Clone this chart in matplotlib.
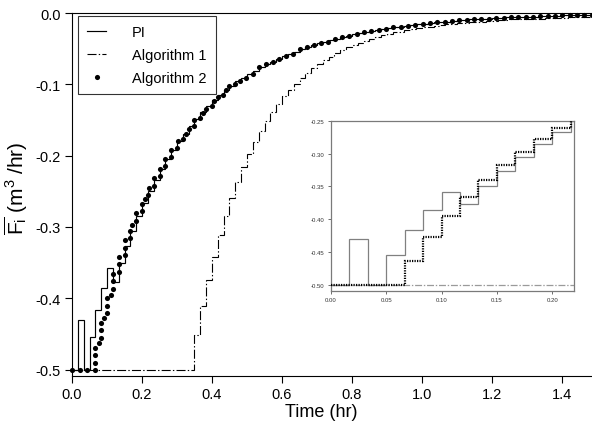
import numpy as np
import matplotlib
matplotlib.use('Agg')
import matplotlib.pyplot as plt
from matplotlib.lines import Line2D

plt.rcParams['font.family'] = ['Liberation Sans', 'DejaVu Sans']
plt.rcParams['axes.unicode_minus'] = False
plt.rcParams['mathtext.fontset'] = 'custom'
plt.rcParams['mathtext.rm'] = 'Liberation Sans'
plt.rcParams['mathtext.it'] = 'Liberation Sans:italic'
plt.rcParams['lines.scale_dashes'] = False

# ---- data (one value per 1-minute controller step, time in hr) ----
step_hr = 1 / 60

pi_vals = [-0.5, -0.43, -0.5, -0.454, -0.417, -0.386, -0.358, -0.377, -0.350, -0.326,
           -0.305, -0.285, -0.267, -0.250, -0.234, -0.219, -0.205, -0.192, -0.180, -0.169,
           -0.158, -0.148, -0.139, -0.130, -0.122, -0.115, -0.108, -0.102, -0.096, -0.091,
           -0.086, -0.081, -0.076, -0.072, -0.068, -0.064, -0.060, -0.057, -0.054, -0.051,
           -0.048, -0.045, -0.042, -0.040, -0.038, -0.036, -0.034, -0.032, -0.030, -0.028,
           -0.027, -0.025, -0.024, -0.022, -0.021, -0.020, -0.019, -0.018, -0.017, -0.016,
           -0.015, -0.014, -0.013, -0.012, -0.012, -0.011, -0.010, -0.010, -0.009, -0.009,
           -0.008, -0.008, -0.007, -0.007, -0.006, -0.006, -0.006, -0.005, -0.005, -0.005,
           -0.004, -0.004, -0.004, -0.004, -0.003, -0.003, -0.003, -0.003, -0.003, -0.003]

alg1_vals = [-0.5] * 21 + [
    -0.451, -0.411, -0.375, -0.342, -0.311, -0.284, -0.259, -0.237, -0.216, -0.198,
    -0.181, -0.166, -0.152, -0.139, -0.128, -0.117, -0.108, -0.099, -0.091, -0.084,
    -0.077, -0.071, -0.066, -0.061, -0.056, -0.052, -0.048, -0.045, -0.042, -0.039,
    -0.036, -0.034, -0.031, -0.029, -0.027, -0.026, -0.024, -0.023, -0.021, -0.020,
    -0.019, -0.018, -0.017, -0.016, -0.015, -0.014, -0.014, -0.013, -0.012, -0.012,
    -0.011, -0.011, -0.010, -0.010, -0.009, -0.009, -0.009, -0.008, -0.008, -0.008,
    -0.007, -0.007, -0.007, -0.007, -0.006, -0.006, -0.006, -0.006, -0.006]

alg2_vals = [-0.5, -0.5, -0.5, -0.5, -0.463, -0.427, -0.395, -0.366, -0.341, -0.318,
             -0.297, -0.278, -0.261, -0.245]

# Algorithm 2 solver output points shown as dots in the main panel
alg2_dot_t = [0, 0.0217, 0.0434, 0.0651, 0.0667, 0.0667, 0.0667, 0.0766, 0.0833, 0.0833,
              0.0833, 0.090, 0.1, 0.1, 0.1, 0.1117, 0.1167, 0.1167, 0.1178, 0.1333,
              0.1333, 0.1333, 0.15, 0.15, 0.1503, 0.1667, 0.1667, 0.1727, 0.1833, 0.1833,
              0.1989, 0.2, 0.2078, 0.2167, 0.2187, 0.2333, 0.2333, 0.25, 0.25, 0.2667,
              0.2667, 0.2833, 0.2833, 0.30, 0.3033, 0.3167, 0.3243, 0.3333, 0.3474, 0.35,
              0.3667, 0.3738, 0.3833, 0.3989, 0.4043, 0.4167, 0.4314, 0.4389, 0.45, 0.4667,
              0.4796, 0.497, 0.516, 0.535, 0.554, 0.573, 0.592, 0.611, 0.631, 0.651,
              0.671, 0.691, 0.711, 0.731, 0.751, 0.771, 0.792, 0.813, 0.834, 0.855,
              0.876, 0.897, 0.918, 0.939, 0.960, 0.981, 1.002, 1.023, 1.044, 1.065,
              1.086, 1.107, 1.128, 1.149, 1.170, 1.191, 1.212, 1.233, 1.254, 1.275,
              1.296, 1.317, 1.338, 1.359, 1.380, 1.401, 1.422, 1.443, 1.464, 1.485]
alg2_dot_v = [-0.5, -0.5, -0.5, -0.5, -0.490, -0.479, -0.469, -0.463, -0.456, -0.445,
              -0.434, -0.427, -0.421, -0.411, -0.400, -0.395, -0.387, -0.376, -0.366, -0.363,
              -0.352, -0.342, -0.339, -0.329, -0.318, -0.315, -0.305, -0.297, -0.292, -0.281,
              -0.278, -0.268, -0.261, -0.255, -0.245, -0.242, -0.231, -0.228, -0.218, -0.215,
              -0.205, -0.202, -0.192, -0.189, -0.180, -0.176, -0.169, -0.163, -0.159, -0.150,
              -0.147, -0.140, -0.134, -0.131, -0.123, -0.118, -0.115, -0.108, -0.103, -0.100,
              -0.096, -0.091, -0.086, -0.076, -0.072, -0.068, -0.064, -0.060, -0.057, -0.051,
              -0.048, -0.045, -0.042, -0.040, -0.036, -0.034, -0.032, -0.030, -0.027, -0.025,
              -0.024, -0.022, -0.020, -0.019, -0.018, -0.017, -0.015, -0.014, -0.013, -0.012,
              -0.011, -0.010, -0.010, -0.009, -0.008, -0.008, -0.007, -0.007, -0.006, -0.006,
              -0.005, -0.005, -0.004, -0.004, -0.004, -0.003, -0.003, -0.003, -0.003, -0.003]

labels = ['PI', 'Algorithm 1', 'Algorithm 2']
main_xticks = [0.0, 0.2, 0.4, 0.6, 0.8, 1.0, 1.2, 1.4]
main_yticks = [0.0, -0.1, -0.2, -0.3, -0.4, -0.5]
inset_xticks = [0.00, 0.05, 0.10, 0.15, 0.20]
inset_yticks = [-0.25, -0.30, -0.35, -0.40, -0.45, -0.50]

# ---- figure ----
fig = plt.figure(figsize=(5.92, 4.27), dpi=100)
ax = fig.add_axes([72 / 592, 50 / 427, 520 / 592, 363 / 427])

dashdot = (0, (6.5, 1.6, 1.0, 1.6))

edges_pi = np.arange(len(pi_vals) + 1) * step_hr
edges_a1 = np.arange(len(alg1_vals) + 1) * step_hr
edges_a2 = np.arange(len(alg2_vals) + 1) * step_hr

ax.stairs(alg1_vals, edges_a1, baseline=None, color='k', lw=0.8, linestyle=dashdot, zorder=2)
ax.stairs(pi_vals, edges_pi, baseline=None, color='k', lw=0.85, zorder=3)
ax.plot(alg2_dot_t, alg2_dot_v, linestyle='none', marker='o', ms=3.7, color='k',
        mec='k', mew=0, zorder=4, clip_on=False)

ax.set_xlim(0, 520 / 350)
ax.set_ylim(-0.5089, 0.0)
ax.set_xticks(main_xticks)
ax.set_xticklabels([f'{v:.1f}' for v in main_xticks])
ax.set_yticks(main_yticks)
ax.set_yticklabels([f'{v:.1f}' for v in main_yticks])
ax.tick_params(direction='out', length=5, width=0.8, labelsize=10.5, pad=3)
ax.spines['right'].set_visible(False)
for s in ['left', 'bottom', 'top']:
    ax.spines[s].set_linewidth(0.8)
ax.set_xlabel('Time (hr)', fontsize=13, labelpad=1)
ax.set_ylabel(r'$\overline{\mathrm{F}_\mathrm{i}}$ (m$^\mathrm{3}$ /hr)', fontsize=15)
ax.xaxis.set_label_coords(0.48, -0.075)
ax.yaxis.set_label_coords(-0.081, 0.52)

handles = [Line2D([], [], color='k', lw=0.85),
           Line2D([], [], color='k', lw=0.8, linestyle=dashdot),
           Line2D([], [], color='k', linestyle='none', marker='o', ms=3.7, mew=0)]
leg = ax.legend(handles, labels, loc='upper left', bbox_to_anchor=(6 / 520, 1 - 3 / 363),
                borderaxespad=0, fontsize=10.5, frameon=True, fancybox=False,
                edgecolor='k', handlelength=1.3, handletextpad=1.75, labelspacing=0.6,
                borderpad=0.65)
leg.get_frame().set_linewidth(0.8)

# ---- inset ----
axi = fig.add_axes([331 / 592, (427 - 291.7) / 427, 243 / 592, 170 / 427])
axi.stairs(alg1_vals, edges_a1, baseline=None, color='#9a9a9a', lw=0.9,
           linestyle=(0, (5.0, 1.3, 1.0, 1.3)), zorder=2)
axi.stairs(pi_vals, edges_pi, baseline=None, color='#808080', lw=0.9, zorder=3)
axi.stairs(alg2_vals, edges_a2, baseline=None, color='k', lw=1.6,
           linestyle=(0, (0.9, 0.9)), zorder=4)
axi.set_xlim(0, 0.2197)
axi.set_ylim(-0.509, -0.25)
axi.set_xticks(inset_xticks)
axi.set_xticklabels([f'{v:.2f}' for v in inset_xticks])
axi.set_yticks(inset_yticks)
axi.set_yticklabels([f'{v:.2f}' for v in inset_yticks])
axi.tick_params(direction='out', length=2.5, width=0.6, labelsize=4.3, pad=2,
                colors='#555555', labelcolor='#333333')
for s in axi.spines.values():
    s.set_color('#7a7a7a')
    s.set_linewidth(0.9)

fig.savefig('out.png', dpi=100)
